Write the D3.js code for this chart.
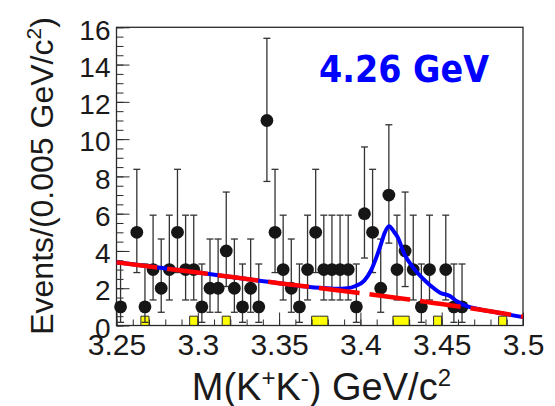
<!DOCTYPE html>
<html>
<head>
<meta charset="utf-8">
<script src="https://cdn.jsdelivr.net/npm/d3@7"></script>
<style>
  html, body { margin: 0; padding: 0; background: #fff; }
  svg { display: block; }
  text { font-family: "Liberation Sans", Arial, Helvetica, sans-serif; fill: #1a1a1a; }
</style>
</head>
<body>
<svg id="chart" width="555" height="406"></svg>
<script>
// ---------- data ----------
// data points (bin centres, GeV/c^2) and event counts
const massPts  = [3.2525,3.2625,3.2675,3.2725,3.2775,3.2825,3.2875,3.2925,3.2975,3.3025,
                  3.3075,3.3125,3.3175,3.3225,3.3275,3.3325,3.3375,3.3425,3.3475,3.3525,
                  3.3575,3.3625,3.3675,3.3725,3.3775,3.3825,3.3875,3.3925,3.3975,3.4025,
                  3.4075,3.4125,3.4175,3.4225,3.4275,3.4325,3.4375,3.4425,3.4525,3.4575,3.4625];
const counts   = [1,5,1,3,2,3,5,3,3,1,
                  2,2,4,2,1,2,1,11,5,3,
                  2,1,3,5,3,3,3,3,1,6,
                  5,2,7,3,4,3,1,3,3,1,1];
// Poisson error bar ends (lower / upper), as drawn
const errLow   = [0.17,2.84,0.17,1.37,0.71,1.37,2.84,1.37,1.37,0.17,
                  0.71,0.71,2.09,0.71,0.17,0.71,0.17,7.73,2.84,1.37,
                  0.71,0.17,1.37,2.84,1.37,1.37,1.37,1.37,0.17,3.62,
                  2.84,0.71,4.42,1.37,2.09,1.37,0.17,1.37,1.37,0.17,0.17];
const errHigh  = [3.30,8.38,3.30,5.92,4.64,5.92,8.38,5.92,5.92,3.30,
                  4.64,4.64,7.16,4.64,3.30,4.64,3.30,15.41,8.38,5.92,
                  4.64,3.30,5.92,8.38,5.92,5.92,5.92,5.92,3.30,9.58,
                  8.38,4.64,10.77,5.92,7.16,5.92,3.30,5.92,5.92,3.30,3.30];

// background (sideband) histogram: 50 bins of 0.005 from 3.25
const bgEdgeLow = 3.25, bgBinWidth = 0.005;
const bgCounts = [0,0,0,0.5,0,0,0,0,0,0.5,
                  0,0,0,0.5,0,0,0,0,0,0,
                  0,0,0,0,0.5,0.5,0,0,0,0,
                  0,0,0,0,0.5,0.5,0,0,0,0.5,
                  0,0,0,0,0,0,0,0.5,0,0];

// fit curves
const totalMass = [3.25,3.30,3.35,3.375,3.385,3.392,3.397,3.4024,3.4065,3.4106,3.4127,3.4147,
                   3.4176,3.4205,3.4229,3.427,3.4331,3.438,3.443,3.449,3.4551,3.4592,3.4654,
                   3.4715,3.4838,3.50];
const totalVal  = [3.39,2.84,2.27,2.02,1.97,2.00,2.12,2.41,2.95,3.84,4.38,4.92,
                   5.33,5.05,4.74,3.84,3.04,2.55,2.15,1.76,1.58,1.30,1.04,
                   0.90,0.70,0.45];
const bkgMass   = [3.25,3.30,3.35,3.40,3.43,3.45,3.475,3.50];
const bkgVal    = [3.39,2.84,2.27,1.74,1.40,1.15,0.83,0.47];

// axes
const xTickVals   = [3.25,3.30,3.35,3.40,3.45,3.50];
const xTickLabels = ["3.25","3.3","3.35","3.4","3.45","3.5"];
const yTickVals   = [0,2,4,6,8,10,12,14,16];
const yTickLabels = ["0","2","4","6","8","10","12","14","16"];
const xTitle = "M(K+K-) GeV/c2";
const yTitle = "Events/(0.005 GeV/c2)";
const energyLabel = "4.26 GeV";

// ---------- drawing ----------
const svg = d3.select("#chart");
const x = d3.scaleLinear().domain([3.25, 3.5]).range([116.5, 523]);
const y = d3.scaleLinear().domain([0, 16]).range([325.5, 27.3]);
const ink = "#2a2a2a";

// background histogram (yellow)
const bgBins = bgCounts.map((v, i) => ({lo: bgEdgeLow + i * bgBinWidth, v}));
svg.append("g").selectAll("rect").data(bgBins.filter(d => d.v > 0)).join("rect")
  .attr("x", d => x(d.lo)).attr("width", d => x(d.lo + bgBinWidth) - x(d.lo))
  .attr("y", d => y(d.v)).attr("height", d => y(0) - y(d.v))
  .attr("fill", "#ffff00");
const stepPts = bgBins.map(d => [d.lo, d.v]).concat([[bgEdgeLow + bgCounts.length * bgBinWidth, 0]]);
svg.append("path")
  .attr("d", d3.line().x(d => x(d[0])).y(d => y(d[1])).curve(d3.curveStepAfter)(stepPts))
  .attr("fill", "none").attr("stroke", ink).attr("stroke-width", 1);

// axes ticks
const xMinor = d3.range(0, 26).map(i => 3.25 + i * 0.01);
const yMinor = d3.range(0, 33).map(i => i * 0.5);
svg.append("g").attr("transform", `translate(0,${y(0)})`)
  .call(d3.axisBottom(x).tickValues(xMinor).tickSize(-6).tickFormat(""))
  .call(g => { g.select(".domain").remove(); g.selectAll("line").attr("stroke", ink); });
svg.append("g").attr("transform", `translate(0,${y(0)})`)
  .call(d3.axisBottom(x).tickValues(xTickVals).tickSize(-13).tickPadding(8)
        .tickFormat((d, i) => xTickLabels[i]))
  .call(g => {
    g.select(".domain").remove();
    g.selectAll("line").attr("stroke", ink);
    g.selectAll("text").attr("font-size", 30).attr("fill", "#1a1a1a")
      .style("font-family", '"Liberation Sans", Arial, sans-serif');
  });
svg.append("g").attr("transform", `translate(${x(3.25)},0)`)
  .call(d3.axisLeft(y).tickValues(yMinor).tickSize(-7).tickFormat(""))
  .call(g => { g.select(".domain").remove(); g.selectAll("line").attr("stroke", ink); });
svg.append("g").attr("transform", `translate(${x(3.25)},0)`)
  .call(d3.axisLeft(y).tickValues(yTickVals).tickSize(-13).tickPadding(6)
        .tickFormat((d, i) => yTickLabels[i]))
  .call(g => {
    g.select(".domain").remove();
    g.selectAll("line").attr("stroke", ink);
    g.selectAll("text").attr("font-size", 28).attr("dy", "0.42em").attr("fill", "#1a1a1a")
      .style("font-family", '"Liberation Sans", Arial, sans-serif');
  });

// frame
svg.append("rect")
  .attr("x", x(3.25)).attr("y", y(16))
  .attr("width", x(3.5) - x(3.25)).attr("height", y(0) - y(16))
  .attr("fill", "none").attr("stroke", ink).attr("stroke-width", 1.3);

// data: error bars and markers
const pts = massPts.map((m, i) => ({m, n: counts[i], lo: errLow[i], hi: errHigh[i]}));
const eb = svg.append("g").attr("stroke", "#333").attr("stroke-width", 1.3);
eb.selectAll("line.v").data(pts).join("line").attr("class", "v")
  .attr("x1", d => x(d.m)).attr("x2", d => x(d.m))
  .attr("y1", d => y(d.lo)).attr("y2", d => y(d.hi));
eb.selectAll("line.t").data(pts).join("line").attr("class", "t")
  .attr("x1", d => x(d.m) - 3.5).attr("x2", d => x(d.m) + 3.5)
  .attr("y1", d => y(d.hi)).attr("y2", d => y(d.hi));
eb.selectAll("line.b").data(pts).join("line").attr("class", "b")
  .attr("x1", d => x(d.m) - 3.5).attr("x2", d => x(d.m) + 3.5)
  .attr("y1", d => y(d.lo)).attr("y2", d => y(d.lo));
svg.append("g").selectAll("circle").data(pts).join("circle")
  .attr("cx", d => x(d.m)).attr("cy", d => y(d.n)).attr("r", 6.4)
  .attr("fill", "#161616");

// fit curves
const totalPts = totalMass.map((m, i) => [m, totalVal[i]]);
const bkgPts = bkgMass.map((m, i) => [m, bkgVal[i]]);
const line = d3.line().x(d => x(d[0])).y(d => y(d[1])).curve(d3.curveMonotoneX);
svg.append("path").attr("d", line(totalPts))
  .attr("fill", "none").attr("stroke", "#0000ff").attr("stroke-width", 4)
  .attr("stroke-linejoin", "round");
svg.append("path").attr("d", line(bkgPts))
  .attr("fill", "none").attr("stroke", "#ff0000").attr("stroke-width", 4.5)
  .attr("stroke-dasharray", "41,10");

// energy label
svg.append("text").attr("x", 319).attr("y", 82)
  .attr("textLength", 170).attr("lengthAdjust", "spacingAndGlyphs")
  .style("font-family", '"DejaVu Sans", sans-serif').style("font-weight", "bold")
  .attr("font-size", 38).style("fill", "#0000ff").text(energyLabel);

// x title  M(K+K-) GeV/c2
const xt = svg.append("text").attr("x", 451).attr("y", 400).attr("text-anchor", "end")
  .attr("font-size", 38);
xt.append("tspan").text("M(K");
xt.append("tspan").attr("dy", -14).attr("font-size", 24).text("+");
xt.append("tspan").attr("dy", 14).text("K");
xt.append("tspan").attr("dy", -14).attr("font-size", 24).text("-");
xt.append("tspan").attr("dy", 14).text(") GeV/c");
xt.append("tspan").attr("dy", -14).attr("font-size", 24).text("2");

// y title  Events/(0.005 GeV/c2)
const yt = svg.append("text").attr("transform", "translate(53,176) rotate(-90)")
  .attr("text-anchor", "middle").attr("font-size", 32);
yt.append("tspan").text("Events/(0.005 GeV/c");
yt.append("tspan").attr("dy", -12).attr("font-size", 21).text("2");
yt.append("tspan").attr("dy", 12).text(")");
</script>
</body>
</html>
